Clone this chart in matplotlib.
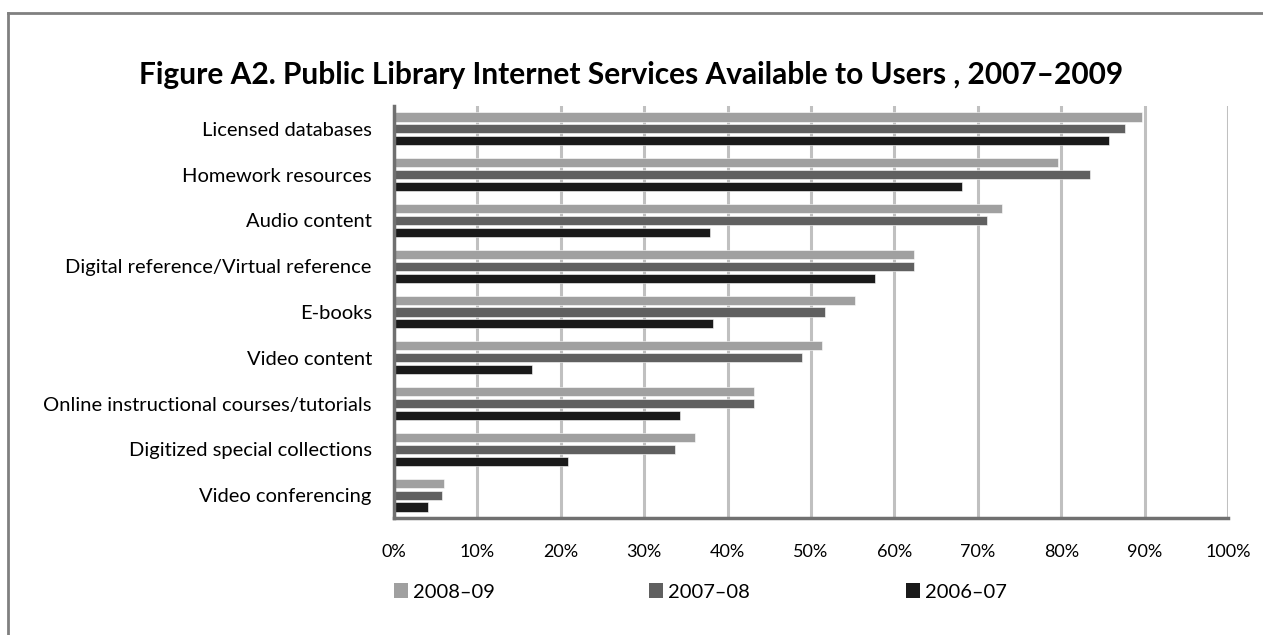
import matplotlib
matplotlib.use("Agg")
import matplotlib.pyplot as plt
from matplotlib.lines import Line2D
from matplotlib.patches import Patch
import numpy as np

categories = ["Licensed databases", "Homework resources", "Audio content",
              "Digital reference/Virtual reference", "E-books", "Video content",
              "Online instructional courses/tutorials", "Digitized special collections",
              "Video conferencing"]
series_names = ["2008–09", "2007–08", "2006–07"]
v_2008_09 = [89.7, 79.6, 72.9, 62.4, 55.3, 51.3, 43.2, 36.1, 6.0]
v_2007_08 = [87.7, 83.5, 71.1, 62.4, 51.7, 48.9, 43.2, 33.7, 5.8]
v_2006_07 = [85.7, 68.1, 37.9, 57.7, 38.3, 16.5, 34.3, 20.9, 4.1]
xticks = [0, 10, 20, 30, 40, 50, 60, 70, 80, 90, 100]
xtick_labels = [f"{t}%" for t in xticks]
title = "Figure A2. Public Library Internet Services Available to Users , 2007–2009"

colors = ["#a0a0a0", "#606060", "#1a1a1a"]

plt.rcParams['font.family'] = ['Lato', 'DejaVu Sans']

fig = plt.figure(figsize=(12.63, 6.35), dpi=100)
ax = fig.add_axes([394/1263, 1 - 518/635, (1228-394)/1263, (518-106)/635])

y = np.arange(len(categories))
offsets = [-0.26, 0.0, 0.26]
for vals, off, c, name in zip([v_2008_09, v_2007_08, v_2006_07], offsets, colors, series_names):
    ax.barh(y + off, vals, height=0.2, color=c, edgecolor="white", linewidth=0.4,
            label=name, zorder=3)

ax.set_ylim(len(categories) - 0.5, -0.5)
ax.set_xlim(0, 100)
ax.set_yticks(y)
ax.set_yticklabels(categories, fontsize=14.5)
ax.set_xticks(xticks)
ax.set_xticklabels(xtick_labels, fontsize=13)
ax.tick_params(axis='y', length=0, pad=16)
ax.tick_params(axis='x', length=0, pad=19)
ax.grid(axis='x', color="#c0c0c0", linewidth=2.2, zorder=1)
ax.set_axisbelow(True)
for s in ["top", "right"]:
    ax.spines[s].set_visible(False)
for s in ["left", "bottom"]:
    ax.spines[s].set_color("#707070")
    ax.spines[s].set_linewidth(2.5)
    ax.spines[s].set_zorder(4)

fig.text(0.5, 1 - 75/635, title, ha="center", va="center", fontsize=21.5, fontweight="bold")

# legend entries placed individually
leg_x = [394, 649, 906]
for name, c, lx in zip(series_names, colors, leg_x):
    h = Patch(facecolor=c, edgecolor="none")
    fig.legend([h], [name], loc="center left", bbox_to_anchor=(lx/1263, 1 - 592/635),
               frameon=False, fontsize=14.5, handlelength=0.7, handleheight=0.7,
               handletextpad=0.25, borderpad=0, borderaxespad=0)

# outer frame (top and left edges visible)
fig.add_artist(Line2D([8/1263, 8/1263], [0, 1 - 13/635], transform=fig.transFigure,
                      color="#808080", linewidth=2))
fig.add_artist(Line2D([8/1263, 1], [1 - 13/635, 1 - 13/635], transform=fig.transFigure,
                      color="#808080", linewidth=2))

fig.savefig("out.png", dpi=100)
